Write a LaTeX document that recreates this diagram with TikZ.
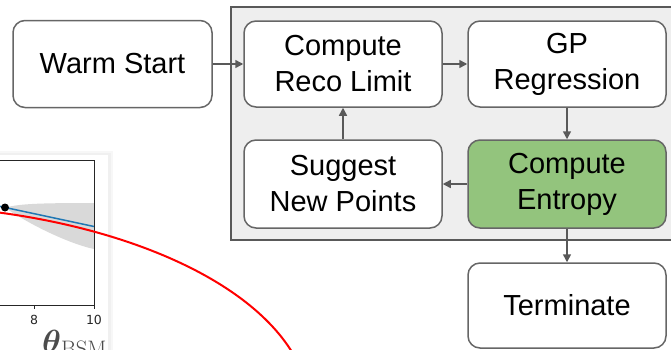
\RequirePackage{fix-cm}
\documentclass[tikz,border=0pt]{standalone}
\usepackage{amsmath}
\usepackage[no-math]{fontspec}
\setmainfont{Liberation Sans}
\newfontfamily\plotfont{DejaVu Sans}
\usetikzlibrary{arrows.meta}
\definecolor{boxedge}{HTML}{666666}
\definecolor{flowline}{HTML}{595959}
\definecolor{panelfill}{HTML}{EEEEEE}
\definecolor{entropygreen}{HTML}{93C47D}
\definecolor{bandgray}{HTML}{D9D9D9}
\definecolor{mplblue}{HTML}{1F77B4}
\begin{document}
\begin{tikzpicture}[x=1pt,y=-1pt,
  stepbox/.style={draw=boxedge, line width=1.5pt, rounded corners=12pt, fill=white,
    minimum width=198pt, minimum height=86pt, align=center, inner sep=0pt,
    font=\fontsize{29}{36}\selectfont, text=black},
  flow/.style={draw=flowline, line width=1.5pt, -{Triangle[length=8pt,width=8pt]}},
  ticklabel/.style={font=\plotfont\fontsize{12.5}{14}\selectfont, text=black!85, inner sep=0pt}]
\useasboundingbox (0,0) rectangle (671,349);
\clip (0,0) rectangle (671,349);

% loop panel
\draw[draw=flowline, fill=panelfill, line width=1.5pt] (231,7) rectangle (690,240);

% plot inset with a soft edge
\fill[black!3] (-10,151) rectangle (113,360);
\fill[black!6] (-10,153) rectangle (111,360);
\fill[white] (-10,155) rectangle (108,360);

% confidence band, mean and data point
\fill[bandgray] (5,207.5) .. controls (20,204) and (35,203) .. (94,203)
  -- (94,249) .. controls (70,244) and (30,225) .. (5,207.5) -- cycle;
\draw[mplblue, line width=1.5pt] (-5,205.3) -- (94,226.5);
\fill[black] (5,207.5) circle (4pt);

% axes frame and ticks
\draw[line width=1pt, black!85] (-10,160) -- (94,160) -- (94,305) -- (-10,305);
\draw[line width=1pt, black!85] (34,305) -- (34,309) (94,305) -- (94,309);
\node[ticklabel] at (34,320) {8};
\node[ticklabel] at (94,320) {10};
\begin{scope}
  \clip (-10,155) rectangle (108,360);
  \node[anchor=base west, inner sep=0pt, text=black!70, font=\fontsize{32}{34}\selectfont]
    (xlabel) at (42,352) {$\boldsymbol{\theta}_{\mathrm{BSM}}$};
\end{scope}

% flow steps
\node[stepbox, minimum width=199pt, minimum height=87pt] (warm) at (112.5,64) {Warm Start};
\node[stepbox] (reco) at (343,64) {Compute\\Reco Limit};
\node[stepbox] (gp) at (567,64) {GP\\Regression};
\node[stepbox, minimum height=88pt] (suggest) at (343,184) {Suggest\\New Points};
\node[stepbox, minimum height=88pt, fill=entropygreen] (entropy) at (567,184) {Compute\\Entropy};
\node[stepbox, minimum height=85pt] (term) at (567,305.5) {Terminate};

\draw[flow] (warm) -- (reco);
\draw[flow] (reco) -- (gp);
\draw[flow] (gp) -- (entropy);
\draw[flow] (entropy) -- (suggest);
\draw[flow] (suggest) -- (reco);
\draw[flow] (entropy) -- (term);

% limit curve laid over the plot
\draw[red, line width=2pt] (-5,212) .. controls (130,229.4) and (247.5,280) .. (292,352);
\end{tikzpicture}
\end{document}
